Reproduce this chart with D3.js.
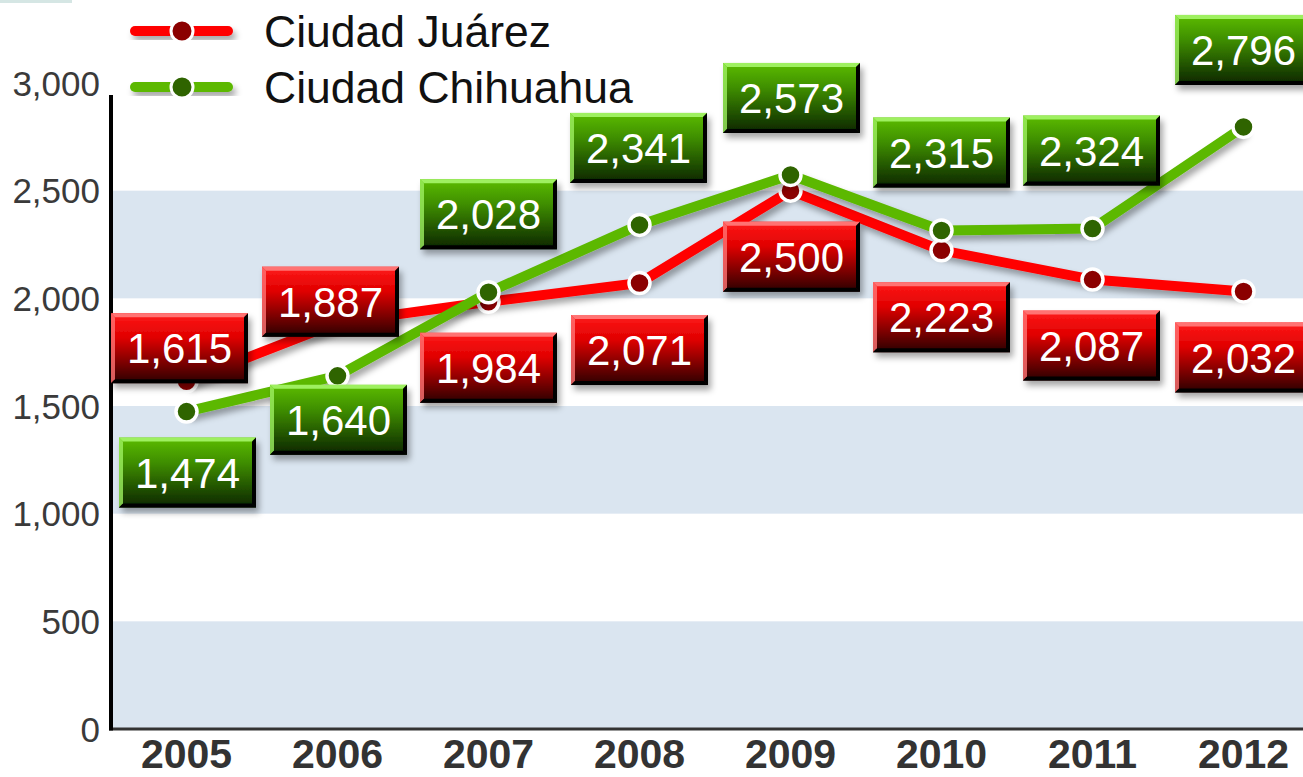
<!DOCTYPE html>
<html>
<head>
<meta charset="utf-8">
<script src="https://cdn.jsdelivr.net/npm/d3@7"></script>
<style>
  body { margin: 0; background: #fff; }
  svg { display: block; font-family: "Liberation Sans", Arial, sans-serif; }
</style>
</head>
<body>
<div id="chart"></div>
<script>
// data
const years = ["2005", "2006", "2007", "2008", "2009", "2010", "2011", "2012"];
const juarez = [1615, 1887, 1984, 2071, 2500, 2223, 2087, 2032];
const chihuahua = [1474, 1640, 2028, 2341, 2573, 2315, 2324, 2796];
const yTicks = [0, 500, 1000, 1500, 2000, 2500, 3000];
const seriesNames = ["Ciudad Juárez", "Ciudad Chihuahua"];

// label placement relative to the point (layout only)
const juarezLabelDx = [-7, -7, 0, 0, 1, 0, -1, 0];
const juarezLabelDy = [-33, -21, 66, 67, 66, 67, 66, 66];
const chihuahuaLabelDx = [1, 1, 0, -1, 1, 0, -1, 0];
const chihuahuaLabelDy = [61, 44, -78, -77, -77, -78, -78, -77];

const W = 1303, H = 777;
const left = 111, bottom = 729, top0 = 83;

const svg = d3.select("#chart").append("svg")
  .attr("width", W)
  .attr("height", H);

const defs = svg.append("defs");

// soft shadow for lines / boxes
const shadow = defs.append("filter").attr("id", "shadow")
  .attr("x", "-20%").attr("y", "-20%").attr("width", "150%").attr("height", "160%");
shadow.append("feDropShadow")
  .attr("dx", 3).attr("dy", 5).attr("stdDeviation", 3)
  .attr("flood-color", "#000").attr("flood-opacity", 0.35);

function grad(id, stops) {
  const g = defs.append("linearGradient").attr("id", id)
    .attr("x1", 0).attr("y1", 0).attr("x2", 0).attr("y2", 1);
  stops.forEach(s => g.append("stop").attr("offset", s[0]).attr("stop-color", s[1]));
}
grad("redBox", [[0, "#ff1a1a"], [0.35, "#e00000"], [1, "#2a0000"]]);
grad("greenBox", [[0, "#5cbc06"], [0.35, "#3f8f02"], [1, "#0b2400"]]);

const x = d3.scalePoint()
  .domain(years)
  .range([left, left + 151 * 8])
  .padding(0.5);

const y = d3.scaleLinear()
  .domain([0, 3000])
  .range([bottom, top0]);

// small decoration top-left
svg.append("rect")
  .attr("x", 0).attr("y", 0).attr("width", 72).attr("height", 3)
  .attr("fill", "#d5e6e4");

// alternating bands
const bandPairs = d3.pairs(yTicks).filter((d, i) => i % 2 === 0);
svg.append("g").selectAll("rect")
  .data(bandPairs)
  .join("rect")
  .attr("x", left)
  .attr("y", d => y(d[1]))
  .attr("width", W - left)
  .attr("height", d => y(d[0]) - y(d[1]))
  .attr("fill", "#dae5f0");

// y axis tick labels
svg.append("g").selectAll("text")
  .data(yTicks)
  .join("text")
  .attr("x", 100)
  .attr("y", d => y(d))
  .attr("dy", "0.36em")
  .attr("text-anchor", "end")
  .attr("font-size", 35)
  .attr("fill", "#3a3a3a")
  .text(d => d3.format(",")(d));

// x axis labels
svg.append("g").selectAll("text")
  .data(years)
  .join("text")
  .attr("x", d => x(d))
  .attr("y", 768)
  .attr("text-anchor", "middle")
  .attr("font-size", 41)
  .attr("font-weight", "bold")
  .attr("fill", "#333")
  .text(d => d);

// axis lines
svg.append("line")
  .attr("x1", left - 2).attr("x2", W)
  .attr("y1", bottom).attr("y2", bottom)
  .attr("stroke", "#333").attr("stroke-width", 3);
svg.append("line")
  .attr("x1", left).attr("x2", left)
  .attr("y1", 95).attr("y2", bottom + 1.5)
  .attr("stroke", "#000").attr("stroke-width", 4);

const series = [
  { name: seriesNames[0], values: juarez, line: "#ff0000", dot: "#8b0000", box: "redBox", hi: "#ff7373", dx: juarezLabelDx, dy: juarezLabelDy },
  { name: seriesNames[1], values: chihuahua, line: "#5cb800", dot: "#2f6400", box: "greenBox", hi: "#9ef060", dx: chihuahuaLabelDx, dy: chihuahuaLabelDy }
];

const line = d3.line()
  .x((d, i) => x(years[i]))
  .y(d => y(d));

series.forEach(s => {
  const g = svg.append("g");
  g.append("path")
    .datum(s.values)
    .attr("d", line)
    .attr("fill", "none")
    .attr("stroke", s.line)
    .attr("stroke-width", 10)
    .attr("stroke-linejoin", "round")
    .attr("filter", "url(#shadow)");
  g.selectAll("circle")
    .data(s.values)
    .join("circle")
    .attr("cx", (d, i) => x(years[i]))
    .attr("cy", d => y(d))
    .attr("r", 10.5)
    .attr("fill", s.dot)
    .attr("stroke", "#fff")
    .attr("stroke-width", 3.5);
});

// value labels
const bw = 137, bh = 70, bev = 4;
series.forEach(s => {
  const g = svg.append("g");
  s.values.forEach((v, i) => {
    const cx = x(years[i]) + s.dx[i];
    const cy = y(v) + s.dy[i];
    const x0 = cx - bw / 2, y0 = cy - bh / 2;
    const lb = g.append("g").attr("transform", `translate(${x0},${y0})`);
    lb.append("rect")
      .attr("width", bw).attr("height", bh)
      .attr("fill", `url(#${s.box})`)
      .attr("filter", "url(#shadow)");
    // bevel edges
    lb.append("polygon")
      .attr("points", `0,0 ${bw},0 ${bw - bev},${bev} ${bev},${bev}`)
      .attr("fill", s.hi);
    lb.append("polygon")
      .attr("points", `0,0 ${bev},${bev} ${bev},${bh - bev} 0,${bh}`)
      .attr("fill", s.hi).attr("opacity", 0.8);
    lb.append("polygon")
      .attr("points", `${bw},0 ${bw},${bh} ${bw - bev},${bh - bev} ${bw - bev},${bev}`)
      .attr("fill", "#000");
    lb.append("polygon")
      .attr("points", `0,${bh} ${bw},${bh} ${bw - bev},${bh - bev} ${bev},${bh - bev}`)
      .attr("fill", "#000");
    lb.append("text")
      .attr("x", bw / 2)
      .attr("y", bh / 2)
      .attr("dy", "0.36em")
      .attr("text-anchor", "middle")
      .attr("font-size", 42)
      .attr("fill", "#fff")
      .text(d3.format(",")(v));
  });
});

// legend
const legend = svg.append("g");
series.forEach((s, i) => {
  const ly = 31 + i * 56;
  legend.append("rect")
    .attr("x", 130).attr("y", ly - 5)
    .attr("width", 103).attr("height", 10)
    .attr("rx", 5)
    .attr("fill", s.line)
    .attr("filter", "url(#shadow)");
  legend.append("circle")
    .attr("cx", 182).attr("cy", ly)
    .attr("r", 11)
    .attr("fill", s.dot)
    .attr("stroke", "#fff")
    .attr("stroke-width", 3);
  legend.append("text")
    .attr("x", 264)
    .attr("y", ly)
    .attr("dy", "0.36em")
    .attr("font-size", 44.5)
    .attr("fill", "#111")
    .text(s.name);
});
</script>
</body>
</html>
